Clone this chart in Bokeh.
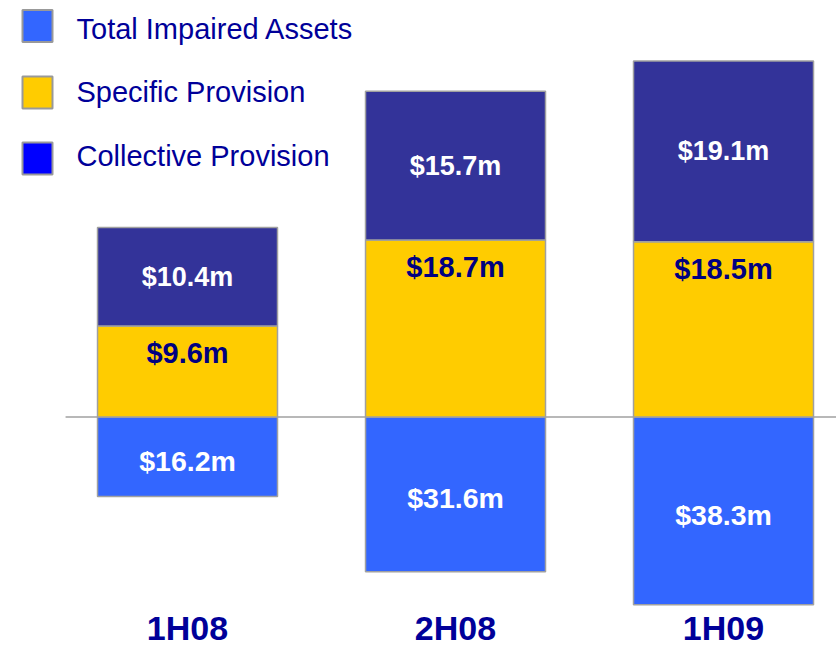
from bokeh.plotting import figure
from bokeh.models import Range1d, ColumnDataSource
from bokeh.core.properties import value
from bokeh.embed import file_html
from bokeh.resources import INLINE

# ---- data ----
periods = ["1H08", "2H08", "1H09"]
impaired = [16.2, 31.6, 38.3]
specific = [9.6, 18.7, 18.5]
collective = [10.4, 15.7, 19.1]

legend_labels = ["Total Impaired Assets", "Specific Provision", "Collective Provision"]
legend_colors = ["#3366FF", "#FFCC00", "#0000FF"]

C_IMP = "#3366FF"
C_SPEC = "#FFCC00"
C_COLL = "#333399"
OUTLINE = "#A0A0A0"
NAVY = "#000099"
FONT = "Liberation Sans"

W, H = 836, 647

xs = list(range(len(periods)))
coll_top = [s + c for s, c in zip(specific, collective)]

src = ColumnDataSource(dict(
    x=xs,
    imp_top=[0] * len(xs),
    imp_bottom=[-v for v in impaired],
    imp_mid=[-v / 2 for v in impaired],
    spec_bottom=[0] * len(xs),
    spec_top=specific,
    coll_bottom=specific,
    coll_top=coll_top,
    coll_mid=[s + c / 2 for s, c in zip(specific, collective)],
    imp_lab=["$%.1fm" % v for v in impaired],
    spec_lab=["$%.1fm" % v for v in specific],
    coll_lab=["$%.1fm" % v for v in collective],
    cat=periods,
))

p = figure(width=W, height=H, output_backend="svg", toolbar_location=None,
           x_range=Range1d(-0.6978, 2.4216), y_range=Range1d(-24.34, 43.98),
           min_border=0, min_border_left=0, min_border_right=0,
           min_border_top=0, min_border_bottom=0)
p.extra_y_ranges = {"imp": Range1d(-47.04, 85.0), "px": Range1d(H, 0)}
p.extra_x_ranges = {"px": Range1d(0, W)}
p.xaxis.visible = False
p.yaxis.visible = False
p.grid.visible = False
p.outline_line_color = None
p.background_fill_color = "white"
p.border_fill_color = "white"

# baseline
p.segment(x0=[-0.455], y0=[0], x1=[2.45], y1=[0], line_color=OUTLINE, line_width=1.5)

bw = 0.6716
p.vbar(x="x", top="imp_top", bottom="imp_bottom", width=bw, source=src,
       y_range_name="imp", fill_color=C_IMP, line_color=OUTLINE, line_width=1.5)
p.vbar(x="x", top="spec_top", bottom="spec_bottom", width=bw, source=src,
       fill_color=C_SPEC, line_color=OUTLINE, line_width=1.5)
p.vbar(x="x", top="coll_top", bottom="coll_bottom", width=bw, source=src,
       fill_color=C_COLL, line_color=OUTLINE, line_width=1.5)

# value labels
p.text(x="x", y="coll_mid", text="coll_lab", source=src, text_align="center",
       text_baseline="middle", text_color="white", text_font=value(FONT),
       text_font_style="bold", text_font_size="27px")
p.text(x="x", y="spec_top", text="spec_lab", source=src, text_align="center",
       text_baseline="middle", text_color="#000080", text_font=value(FONT),
       text_font_style="bold", text_font_size="29px", y_offset=27)
p.text(x="x", y="imp_mid", text="imp_lab", source=src, y_range_name="imp",
       text_align="center", text_baseline="middle", text_color="white",
       text_font=value(FONT), text_font_style="bold", text_font_size="28.5px",
       y_offset=4)

# category labels
p.text(x="x", y=627, text="cat", source=src, y_range_name="px",
       text_align="center", text_baseline="middle", text_color=NAVY,
       text_font=value(FONT), text_font_style="bold", text_font_size="34px")

# legend (drawn manually)
p.rect(x=[37] * 3, y=[25.5, 92, 158], width=30, height=32, width_units="screen",
       height_units="screen", x_range_name="px", y_range_name="px",
       fill_color=legend_colors, line_color="#999999", line_width=2)
p.text(x=[76] * 3, y=[28, 91, 155], text=legend_labels, x_range_name="px",
       y_range_name="px", text_align="left", text_baseline="middle",
       text_color=NAVY, text_font=value(FONT), text_font_size="29px")

open("out.html", "w").write(file_html(p, INLINE))
